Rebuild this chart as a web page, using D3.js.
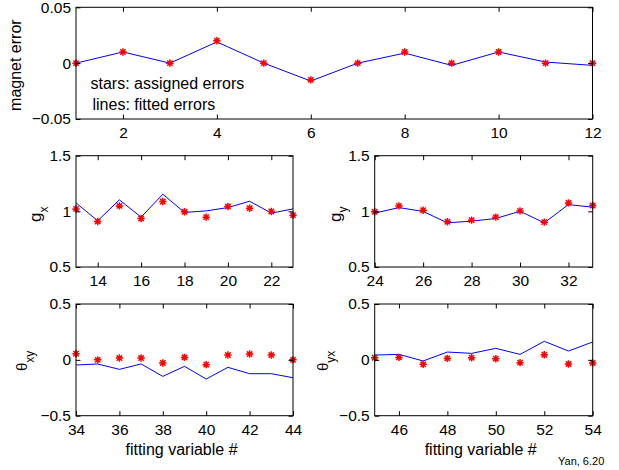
<!DOCTYPE html>
<html>
<head>
<meta charset="utf-8">
<script src="https://cdn.jsdelivr.net/npm/d3@7"></script>
<style>
  body { margin: 0; background: #fff; }
  svg { font-family: "Liberation Sans", Arial, Helvetica, sans-serif; }
</style>
</head>
<body>
<svg id="chart" width="619" height="470"></svg>
<script>
// fitting variable numbers
const magVars = [1, 2, 3, 4, 5, 6, 7, 8, 9, 10, 11, 12];
const gxVars = [13, 14, 15, 16, 17, 18, 19, 20, 21, 22, 23];
const gyVars = [24, 25, 26, 27, 28, 29, 30, 31, 32, 33];
const txyVars = [34, 35, 36, 37, 38, 39, 40, 41, 42, 43, 44];
const tyxVars = [45, 46, 47, 48, 49, 50, 51, 52, 53, 54];

// stars: assigned errors, lines: fitted errors
const magStars = [0, 0.01, 0, 0.02, 0, -0.015, 0, 0.01, 0, 0.01, 0, 0];
const magFit = [0, 0.01, 0, 0.019, 0, -0.016, 0, 0.009, -0.002, 0.01, 0.001, -0.002];

const gxStars = [1.022, 0.909, 1.049, 0.936, 1.088, 0.996, 0.948, 1.043, 1.028, 0.999, 0.966];
const gxFit = [1.076, 0.915, 1.103, 0.948, 1.154, 0.99, 1.004, 1.034, 1.091, 0.984, 1.022];

const gyStars = [0.996, 1.049, 1.01, 0.906, 0.921, 0.948, 1.004, 0.903, 1.076, 1.052];
const gyFit = [0.984, 1.034, 0.999, 0.897, 0.912, 0.936, 1.001, 0.897, 1.061, 1.037];

const txyStars = [0.055, 0.0, 0.016, 0.016, -0.028, 0.022, -0.043, 0.043, 0.052, 0.043, 0.0];
const txyFit = [-0.046, -0.037, -0.085, -0.037, -0.148, -0.058, -0.172, -0.067, -0.124, -0.124, -0.16];

const tyxStars = [0.019, 0.022, -0.04, 0.013, 0.019, 0.01, -0.025, 0.046, -0.037, -0.028];
const tyxFit = [0.043, 0.049, -0.01, 0.07, 0.058, 0.103, 0.049, 0.166, 0.079, 0.16];

// tick values
const magXTicks = [2, 4, 6, 8, 10, 12];
const magYTicks = [-0.05, 0, 0.05];
const gxXTicks = [14, 16, 18, 20, 22];
const gyXTicks = [24, 26, 28, 30, 32];
const gYTicks = [0.5, 1, 1.5];
const txyXTicks = [34, 36, 38, 40, 42, 44];
const tyxXTicks = [46, 48, 50, 52, 54];
const tYTicks = [-0.5, 0, 0.5];

const svg = d3.select('#chart');

const fmt = v => (v < 0 ? '\u2212' : '') + String(Math.abs(v));

const panels = [
  { box: [76, 7.3, 592.5, 119], xs: magVars, stars: magStars, fit: magFit,
    yDomain: [-0.05, 0.05], xTicks: magXTicks, yTicks: magYTicks,
    label: ['magnet error', ''], labelX: 21, labelSize: 16, labelShift: 2 },
  { box: [76, 155.7, 293, 267], xs: gxVars, stars: gxStars, fit: gxFit,
    yDomain: [0.5, 1.5], xTicks: gxXTicks, yTicks: gYTicks,
    label: ['g', 'x'], labelX: 41, labelSize: 17, labelShift: 3, sub: 7 },
  { box: [374.7, 155.7, 592.7, 267], xs: gyVars, stars: gyStars, fit: gyFit,
    yDomain: [0.5, 1.5], xTicks: gyXTicks, yTicks: gYTicks,
    label: ['g', 'y'], labelX: 341, labelSize: 17, labelShift: 3, sub: 6 },
  { box: [76, 304, 293, 415.7], xs: txyVars, stars: txyStars, fit: txyFit,
    yDomain: [-0.5, 0.5], xTicks: txyXTicks, yTicks: tYTicks,
    label: ['\u03b8', 'xy'], labelX: 27, labelSize: 15, labelShift: 1, sub: 7, xTitle: true },
  { box: [374.7, 304, 592.7, 415.7], xs: tyxVars, stars: tyxStars, fit: tyxFit,
    yDomain: [-0.5, 0.5], xTicks: tyxXTicks, yTicks: tYTicks,
    label: ['\u03b8', 'yx'], labelX: 328, labelSize: 15, labelShift: 1, sub: 7, xTitle: true }
];

// MATLAB style '*' marker: plus and cross
const r = 3.7, q = r * 0.72;
const starPath = `M0,${-r}V${r}M${-r},0H${r}M${-q},${-q}L${q},${q}M${-q},${q}L${q},${-q}`;

panels.forEach((p, i) => {
  const [x0, y0, x1, y1] = p.box;
  const w = x1 - x0, h = y1 - y0;
  const x = d3.scaleLinear().domain(d3.extent(p.xs)).range([0, w]);
  const y = d3.scaleLinear().domain(p.yDomain).range([h, 0]);

  const g = svg.append('g').attr('transform', `translate(${x0},${y0})`);

  g.append('defs').append('clipPath').attr('id', 'clip' + i)
    .append('rect').attr('x', -5).attr('y', 0).attr('width', w + 10).attr('height', h);

  // fitted line
  g.append('path')
    .datum(p.xs.map((v, k) => [v, p.fit[k]]))
    .attr('clip-path', `url(#clip${i})`)
    .attr('fill', 'none')
    .attr('stroke', '#0000ff')
    .attr('stroke-width', 1)
    .attr('d', d3.line().x(d => x(d[0])).y(d => y(d[1])));

  // assigned stars
  g.selectAll('path.star')
    .data(p.xs.map((v, k) => [v, p.stars[k]]))
    .join('path')
    .attr('class', 'star')
    .attr('transform', d => `translate(${x(d[0])},${y(d[1])})`)
    .attr('d', starPath)
    .attr('fill', 'none')
    .attr('stroke', '#ff0000')
    .attr('stroke-width', 1.5);

  // axes with inward ticks on all four sides
  const tl = 4.5;
  const axB = g.append('g').attr('transform', `translate(0,${h})`)
    .call(d3.axisBottom(x).tickValues(p.xTicks).tickSizeInner(-tl).tickSizeOuter(0).tickPadding(8).tickFormat(fmt));
  const axT = g.append('g')
    .call(d3.axisTop(x).tickValues(p.xTicks).tickSizeInner(-tl).tickSizeOuter(0).tickFormat(''));
  const axL = g.append('g')
    .call(d3.axisLeft(y).tickValues(p.yTicks).tickSizeInner(-tl).tickSizeOuter(0).tickPadding(5).tickFormat(fmt));
  const axR = g.append('g').attr('transform', `translate(${w},0)`)
    .call(d3.axisRight(y).tickValues(p.yTicks).tickSizeInner(-tl).tickSizeOuter(0).tickFormat(''));
  [axB, axT, axL, axR].forEach(a => {
    a.selectAll('text').attr('fill', '#000').style('font-size', '15.5px')
      .style('font-family', '"Liberation Sans", Arial, sans-serif');
    a.selectAll('line').attr('stroke', '#000');
    a.select('.domain').remove();
  });

  g.append('rect').attr('width', w).attr('height', h)
    .attr('fill', 'none').attr('stroke', '#000').attr('stroke-width', 1);

  // y label
  const yl = svg.append('text')
    .attr('transform', `translate(${p.labelX},${y0 + h / 2 + p.labelShift}) rotate(-90)`)
    .attr('text-anchor', 'middle')
    .style('font-size', p.labelSize + 'px')
    .text(p.label[0]);
  if (p.label[1]) {
    yl.append('tspan').attr('dy', p.sub).style('font-size', '12px').text(p.label[1]);
  }

  if (p.xTitle) {
    svg.append('text')
      .attr('x', x0 + w / 2 - 3).attr('y', 455)
      .attr('text-anchor', 'middle')
      .style('font-size', '16px')
      .text('fitting variable #');
  }
});

// legend note in the top panel
svg.append('text').attr('x', 90.5).attr('y', 89).style('font-size', '16px').text('stars: assigned errors');
svg.append('text').attr('x', 92.5).attr('y', 110).style('font-size', '16px').text('lines: fitted errors');

svg.append('text').attr('x', 558).attr('y', 465).style('font-size', '11px').text('Yan, 6.20');
</script>
</body>
</html>
